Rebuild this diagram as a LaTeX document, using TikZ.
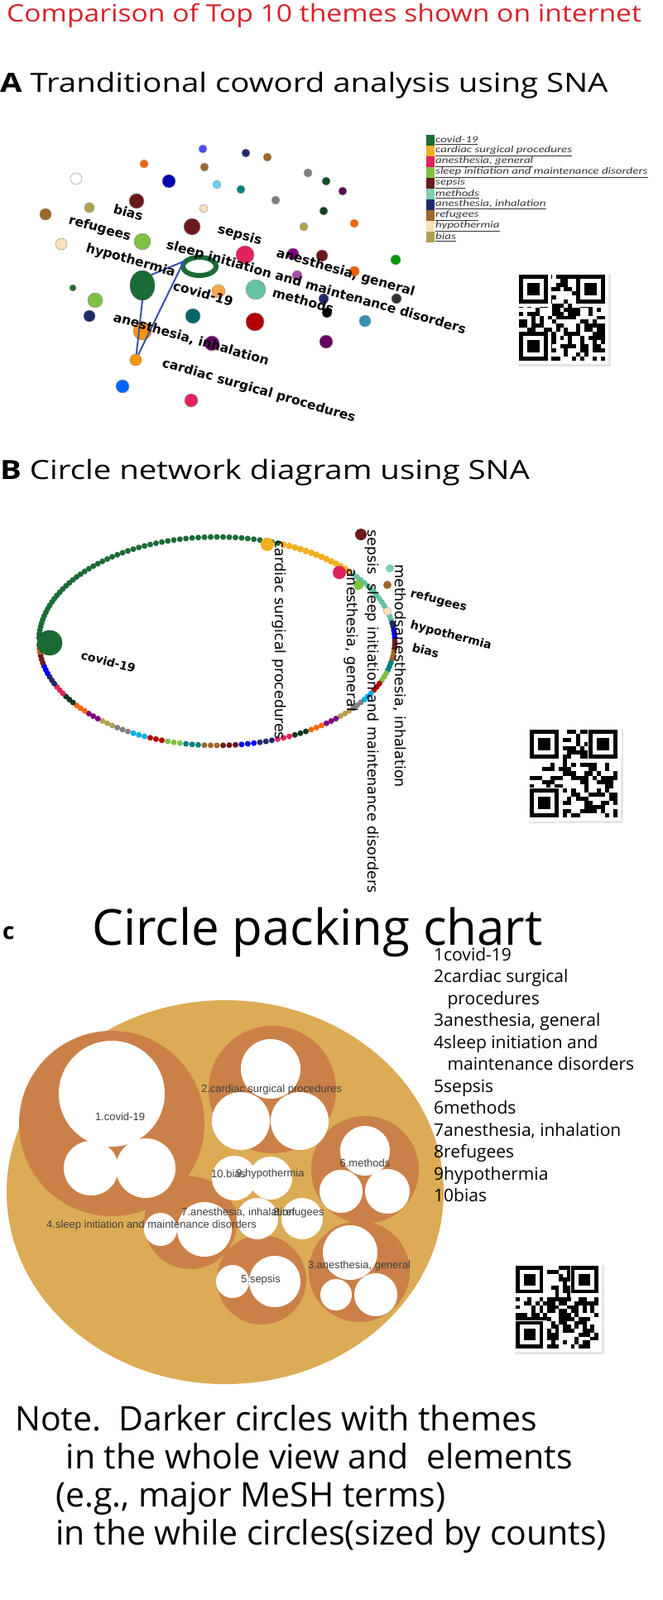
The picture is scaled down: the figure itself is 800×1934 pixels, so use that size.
\documentclass[tikz,border=0pt]{standalone}
\usepackage{fontspec}
\setmainfont{Open Sans}
\newfontfamily\dv{DejaVu Sans}
\newfontfamily\ar{Liberation Sans}
\newfontfamily\arn{Carlito}
\usetikzlibrary{shadows,shapes.geometric}
\definecolor{ttl}{HTML}{D8202A}
\definecolor{cgreen}{HTML}{1B6B35}
\definecolor{corange}{HTML}{F0B020}
\definecolor{cred}{HTML}{E0245A}
\definecolor{clgreen}{HTML}{7DC242}
\definecolor{csepsis}{HTML}{6B1A1A}
\definecolor{cmeth}{HTML}{7FD1AE}
\definecolor{cnavy}{HTML}{1F2A6B}
\definecolor{cbrown}{HTML}{A0662A}
\definecolor{cbeige}{HTML}{FCE0B8}
\definecolor{cbias}{HTML}{B0A050}
\definecolor{gold}{HTML}{DCAB55}
\definecolor{dgold}{HTML}{CB8048}
\definecolor{lnk}{HTML}{3A4FB0}
\newcommand\myqr[3]{%
 \begin{scope}[shift={(#1,#2)}]
 \pgfmathsetmacro\m{#3/21}
 \fill[white,drop shadow={opacity=0.2}] (-4,-4) rectangle (#3+4,#3+4);
 \foreach \i in {0,...,20}{\foreach \j in {0,...,20}{%
   \pgfmathsetmacro\rr{rnd}%
   \ifdim\rr pt<0.5pt \fill (\i*\m,\j*\m) rectangle ++(\m,\m);\fi}}
 \foreach \a/\b in {0/0,14/0,0/14}{%
   \fill[white] (\a*\m-0.5,\b*\m-0.5) rectangle ++(8*\m,8*\m);
   \fill (\a*\m,\b*\m) rectangle ++(7*\m,7*\m);
   \fill[white] (\a*\m+\m,\b*\m+\m) rectangle ++(5*\m,5*\m);
   \fill (\a*\m+2*\m,\b*\m+2*\m) rectangle ++(3*\m,3*\m);}
 \end{scope}}
\newcommand\wid[1]{\scalebox{1.2}[1]{#1}}
\tikzset{
 lbA/.style={font=\dv\bfseries\fontsize{15.5}{15.5}\selectfont,rotate=-16,anchor=base west,inner sep=0},
 lbB/.style={font=\dv\fontsize{17.5}{17.5}\selectfont,rotate=-90,anchor=base west,inner sep=0},
 lbBr/.style={font=\dv\bfseries\fontsize{14}{14}\selectfont,rotate=-15,anchor=base west,inner sep=0},
 lbC/.style={font=\ar\fontsize{13}{13}\selectfont,text=black!75,inner sep=0},
 lg/.style={font=\arn\itshape\fontsize{11.5}{11.5}\selectfont,text=black!80,anchor=west,inner sep=0},
 hd/.style={font=\fontsize{32}{32}\selectfont,anchor=base west,inner sep=0}
}
\begin{document}
\begin{tikzpicture}[x=1pt,y=-1pt]
\useasboundingbox[fill=white] (0,0) rectangle (800,1934);
\node[anchor=base west,inner sep=0,text=ttl,font=\fontsize{29}{29}\selectfont] (title) at (8,27) {\scalebox{1.16}[1]{Comparison of Top 10 themes shown on internet}};
% ---------- A
\node[hd] (hA) at (0,112) {\wid{\textbf{A}\ Tranditional coword analysis using SNA}};
\foreach \x/\y/\c/\r in {92/216/white/7,174/198/orange!80!red/5,245/180/blue!70/5,297/185/cnavy/5,323/190/cbrown/5,247/202/cbrown/5,204/219/blue!70!black/8,262/223/cyan!60/5,291/229/teal/5,372/209/gray/5,394/219/cgreen!70!black/5,414/231/violet!70!black/5,333/242/gray/5,246/252/cbeige/5,391/255/cgreen!60!black/5,367/274/cbias/5,428/270/orange!80!red/5,165/243/csepsis/9,108/251/cbias/6,55/259/cbrown/7,232/274/csepsis/10,172/292/clgreen/10,74/295/cbeige/7,296/308/cred/11,354/307/violet/7,389/309/csepsis/7,478/314/green!60!black/6,428/328/orange!70!red/6,359/333/violet!70/6,88/348/cgreen/4,115/363/clgreen/9,264/352/orange!70/8,309/350/cmeth!80!teal/12,391/361/cnavy/6,479/361/black!80/6,108/382/cnavy/7,233/382/teal!80!black/9,308/389/red!70!black/11,441/388/cyan!70!black/7,395/378/black/6,256/415/violet!80!black/9,394/413/violet!80!black/8,148/467/blue!60!cyan/8,231/484/cred/8}
  {\fill[draw=black!40,fill=\c,line width=0.5] (\x,\y) circle (\r);}
\node[ellipse,fill=cgreen,draw=black!60,minimum width=30,minimum height=36,inner sep=0] (nc) at (172,345) {};
\draw[cgreen,line width=6] (241,322) ellipse (20 and 11);
\coordinate (nr) at (222,316);
\node[circle,fill=orange!85!yellow,draw=black!50,minimum size=22,inner sep=0] (no) at (172,400) {};
\node[circle,fill=orange!85!yellow,draw=black!50,minimum size=14,inner sep=0] (ns) at (164,435) {};
\draw[lnk,line width=2] (nc.north east) -- (nr) -- (ns) -- (nc.south);
\node[lbA] (l1) at (136,257) {bias};
\node[lbA] (l2) at (82,270) {refugees};
\node[lbA] (l3) at (103,304) {hypothermia};
\node[lbA] (l4) at (262,281) {sepsis};
\node[lbA] (l5) at (200,300) {sleep initiation and maintenance disorders};
\node[lbA] (l6) at (333,310) {anesthesia, general};
\node[lbA] (l7) at (208,350) {covid-19};
\node[lbA] (l8) at (328,358) {methods};
\node[lbA] (l9) at (136,388) {anesthesia, inhalation};
\node[lbA] (l10) at (195,443) {cardiac surgical procedures};
\foreach \c/\t [count=\i] in {cgreen/covid-19,corange/cardiac surgical procedures,cred/{anesthesia, general},clgreen/sleep initiation and maintenance disorders,csepsis/sepsis,cmeth/methods,cnavy/{anesthesia, inhalation},cbrown/refugees,cbeige/hypothermia,cbias/bias}{
  \fill[\c] (515,163+13*\i-13) rectangle (525,176+13*\i-13);
  \node[lg] (lg\i) at (526,169.5+13*\i-13) {\scalebox{1.3}[1]{\underline{\t}}};}
\myqr{627}{332}{104}
% ---------- B
\node[hd] (hB) at (0,579) {\wid{\textbf{B}\ Circle network diagram using SNA}};
\foreach \t in {182,184,...,290}{\fill[cgreen] (262+215*cos \t,775+126*sin \t) circle (3.5);}
\foreach \t in {292,294,...,318}{\fill[corange] (262+215*cos \t,775+126*sin \t) circle (4);}
\foreach \t in {320,322,...,348}{\fill[cmeth!80!teal] (262+215*cos \t,775+126*sin \t) circle (3.5);}
\foreach \t [count=\k] in {350,352,...,358,0,2,...,178}{
  \pgfmathsetmacro\ci{int(mod(\k/3,14))}
  \ifcase\ci \def\cc{cnavy}\or\def\cc{blue}\or\def\cc{csepsis}\or\def\cc{cbrown}\or\def\cc{teal}\or\def\cc{clgreen}\or\def\cc{red!70!black}\or\def\cc{cyan}\or\def\cc{gray}\or\def\cc{cbias}\or\def\cc{violet}\or\def\cc{orange!80!red}\or\def\cc{cgreen!50!black}\or\def\cc{cred}\fi
  \fill[\cc] (262+215*cos \t,775+126*sin \t) circle (3.5);}
\node[circle,fill=cgreen,draw=cgreen!70!black,minimum size=30,inner sep=0] (bc) at (60,777) {};
\fill[corange] (323,658) circle (8);
\fill[cred] (410,692) circle (8);
\fill[clgreen] (433,707) circle (6);
\node[circle,fill=csepsis,minimum size=14,inner sep=0] (bs) at (436,646) {};
\node[circle,fill=cmeth,minimum size=10,inner sep=0] (bm) at (471,687) {};
\node[circle,fill=cbrown,minimum size=10,inner sep=0] (bb) at (468,707) {};
\node[circle,fill=cbeige,draw=black!30,minimum size=10,inner sep=0] (bh) at (468,739) {};
\node[lbB] (b1) at (332,653) {cardiac surgical procedures};
\node[lbB] (b2) at (419,687) {anesthesia, general};
\node[lbB] (b3) at (444,640) {sepsis\ \ sleep initiation and maintenance disorders};
\node[lbB] (b4) at (477,682) {methodsanesthesia, inhalation};
\node[lbBr] (b5) at (495,721) {refugees};
\node[lbBr] (b6) at (495,759) {hypothermia};
\node[lbBr] (b7) at (497,787) {bias};
\node[lbBr] (b8) at (97,796) {covid-19};
\myqr{640}{882}{106}
% ---------- C
\node[font=\bfseries\fontsize{28}{28}\selectfont,anchor=base west,inner sep=0] (hC) at (3,1135) {c};
\node[font=\fontsize{60}{60}\selectfont,anchor=base west,inner sep=0] (hC2) at (111,1142) {Circle packing chart};
\fill[gold] (272,1441) ellipse (264 and 232);
\foreach \x/\y/\r in {135/1358/112,329/1317/77,441/1414/65,230/1478/56,316/1547/54,434/1537/61}{\fill[dgold] (\x,\y) circle (\r);}
\foreach \x/\y/\r in {135/1322/64,110/1412/33,176/1412/36,327/1292/36,291/1355/35,362/1355/35,441/1391/30,412/1440/26,468/1440/27,194/1486/20,247/1486/33,281/1549/20,332/1549/31,423/1514/33,406/1565/19,454/1565/26,283/1424/27,327/1424/26,311/1473/25,365/1473/25}{\fill[white] (\x,\y) circle (\r);}
\node[font=\fontsize{21}{26.5}\selectfont,align=left,anchor=north west,inner sep=0] (leg) at (524,1145) {1covid-19\\2cardiac surgical\\\ \ \ procedures\\3anesthesia, general\\4sleep initiation and\\\ \ \ maintenance disorders\\5sepsis\\6methods\\7anesthesia, inhalation\\8refugees\\9hypothermia\\10bias};
\node[lbC] (c1) at (145,1350) {1.covid-19};
\node[lbC] (c2) at (328,1317) {2.cardiac surgical procedures};
\node[lbC] (c6) at (441,1406) {6.methods};
\node[lbC,anchor=west] (c10) at (255,1419) {10.bias};
\node[lbC,anchor=west] (c9) at (285,1419) {9.hypothermia};
\node[lbC,anchor=west] (c7) at (219,1466) {7.anesthesia, inhalation};
\node[lbC,anchor=west] (c8) at (330,1466) {8.refugees};
\node[lbC,anchor=west] (c4) at (56,1481) {4.sleep initiation and maintenance disorders};
\node[lbC] (c5) at (315,1547) {5.sepsis};
\node[lbC] (c3) at (434,1530) {3.anesthesia, general};
\myqr{623}{1530}{100}
\node[font=\fontsize{41}{46}\selectfont,align=left,anchor=north west,inner sep=0] (note) at (18,1698) {Note.\ \ Darker circles with themes\\\hspace*{1.5em}in the whole view and\ \ elements\\\hspace*{1.2em}(e.g., major MeSH terms)\\\hspace*{1.2em}in the while circles(sized by counts)};
\end{tikzpicture}
\end{document}
